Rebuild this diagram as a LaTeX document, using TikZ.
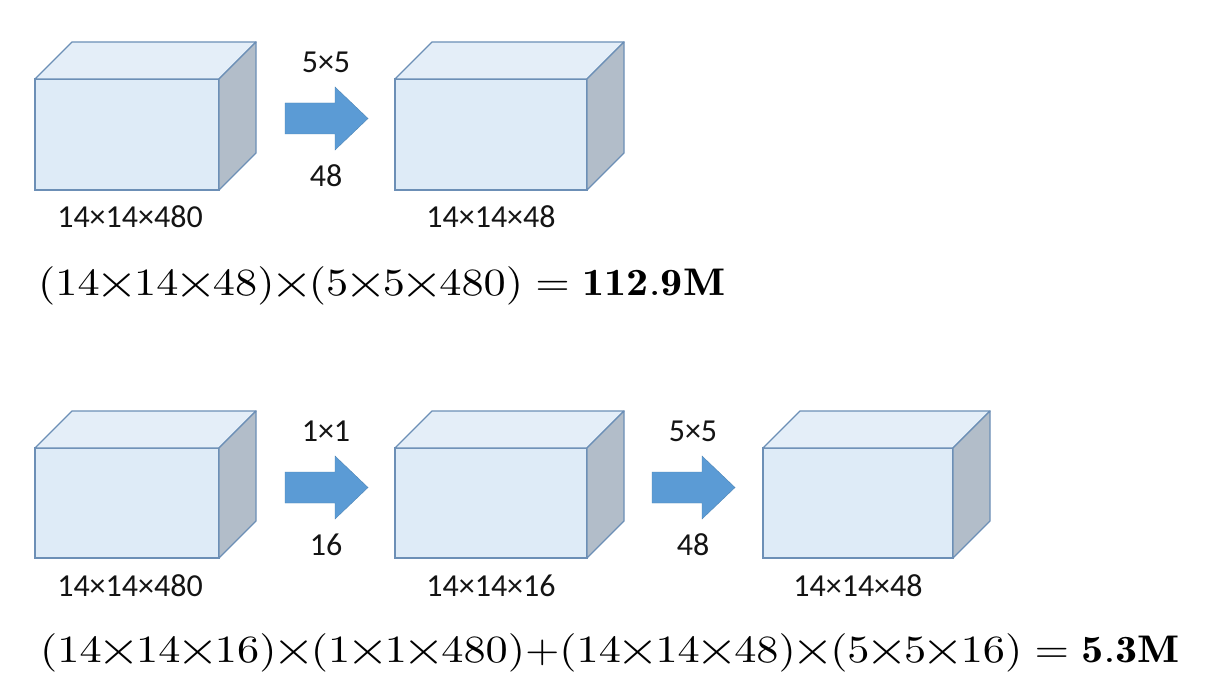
\documentclass[tikz,border=0pt]{standalone}
\usepackage{fontspec}
\usepackage{graphicx}
\newfontfamily\labelfont{Carlito}
\usetikzlibrary{calc}
\definecolor{frontc}{RGB}{222,235,247}
\definecolor{topc}{RGB}{228,238,248}
\definecolor{sidec}{RGB}{178,189,201}
\definecolor{edgec}{RGB}{108,143,182}
\definecolor{arrowc}{RGB}{91,155,213}
\definecolor{txtc}{RGB}{20,20,20}
\newcommand\tm{\mathord{\makebox[0.778em]{\raisebox{-0.07em}{\scalebox{1.25}{\makebox[0pt]{$\times$}}}}}}
\tikzset{
  frontface/.style={draw=edgec, fill=frontc, line width=1.3pt, inner sep=0pt, outer sep=0pt, anchor=north west},
  topface/.style={draw=edgec, fill=topc, line width=1.3pt, line join=round},
  sideface/.style={draw=edgec, fill=sidec, line width=1.3pt, line join=round},
  blockarrow/.style={fill=arrowc, draw=arrowc!85!black, line width=0.4pt},
  lbl/.style={font=\labelfont\fontsize{32}{38}\selectfont, text=txtc, inner sep=0pt},
  eqn/.style={anchor=base west, inner sep=0pt, text=black}
}
% cube: name, left, top, width, height
\newcommand\drawcube[5]{%
  \node[frontface, minimum width=#4pt, minimum height=#5pt] (#1) at (#2,#3) {};
  \draw[topface] (#1.north west) -- ++(37,-37) -- ($(#1.north east)+(37,-37)$) -- (#1.north east) -- cycle;
  \draw[sideface] (#1.north east) -- ++(37,-37) -- ($(#1.south east)+(37,-37)$) -- (#1.south east) -- cycle;
}
% arrow: name, left x, centre y
\newcommand\drawblockarrow[3]{%
  \coordinate (#1) at (#2,#3);
  \draw[blockarrow] ($(#1)+(0,-15.5)$) -- ++(50,0) -- ++(0,-16) -- ($(#1)+(83,0)$)
     -- ($(#1)+(50,31.5)$) -- ++(0,-16) -- ($(#1)+(0,15.5)$) -- cycle;
}
\begin{document}
\begin{tikzpicture}[x=1pt,y=-1pt]
\useasboundingbox[fill=white] (0,0) rectangle (1208,682);

% top row
\drawcube{a1}{35}{79}{184}{111}
\drawcube{a2}{395}{79}{192}{111}
\drawblockarrow{ar1}{285}{118.5}
\node[lbl] (k1) at (326,62) {5×5};
\node[lbl] (n1) at (326,176) {48};
\node[lbl] (la1) at ($(a1.south)+(3,27)$) {14×14×480};
\node[lbl] (la2) at ($(a2.south)+(0,27)$) {14×14×48};
\node[eqn] (eq1) at (38,295) {\scalebox{4.43}[3.85]{$(14\tm14\tm48)\tm(5\tm5\tm480)=\mathbf{112.9M}$}};

% bottom row
\drawcube{b1}{35}{448}{184}{110}
\drawcube{b2}{395}{448}{192}{110}
\drawcube{b3}{763}{448}{190}{110}
\drawblockarrow{ar2}{285}{487.5}
\drawblockarrow{ar3}{652}{487.5}
\node[lbl] (k2) at (326,431) {1×1};
\node[lbl] (n2) at (326,545) {16};
\node[lbl] (k3) at (693,431) {5×5};
\node[lbl] (n3) at (693,545) {48};
\node[lbl] (lb1) at ($(b1.south)+(3,28)$) {14×14×480};
\node[lbl] (lb2) at ($(b2.south)+(0,28)$) {14×14×16};
\node[lbl] (lb3) at ($(b3.south)+(0,28)$) {14×14×48};
\node[eqn] (eq2) at (40,662) {\scalebox{4.43}[3.85]{$(14\tm14\tm16)\tm(1\tm1\tm480){+}(14\tm14\tm48)\tm(5\tm5\tm16)=\mathbf{5.3M}$}};
\end{tikzpicture}
\end{document}
